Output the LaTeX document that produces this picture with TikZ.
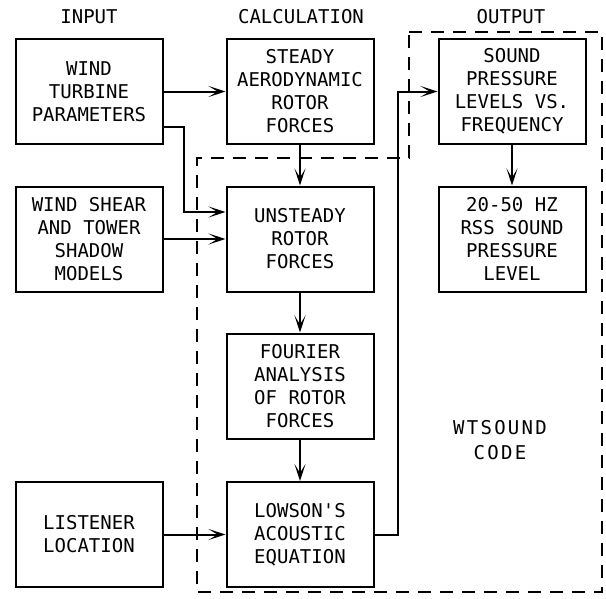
\documentclass[tikz,border=0pt]{standalone}
\usepackage{fontspec}
\newfontfamily\chartfont{DejaVu Sans Mono}
\newfontfamily\codefont[LetterSpace=12]{DejaVu Sans Mono}
\usetikzlibrary{
    arrows.meta,
    positioning,
}

\begin{document}
\begin{tikzpicture}[x=1pt, y=-1pt,
        blockbox/.style={draw, line width=2pt, minimum width=147pt, minimum height=105pt,
            inner sep=0pt, align=center, font=\chartfont\fontsize{19}{23}\selectfont},
        heading/.style={font=\chartfont\fontsize{19}{23}\selectfont},
        flow/.style={line width=2pt, -{Stealth[length=17pt, width=11pt, inset=9pt]}},
        codeline/.style={line width=2.4pt, dash pattern=on 13pt off 9pt}]
    \useasboundingbox (0,0) rectangle (606,598);
    % column headings
    \node[heading] (hin) at (89,17) {INPUT};
    \node[heading] (hcalc) at (301,17) {CALCULATION};
    \node[heading] (hout) at (511,17) {OUTPUT};
    % WTSOUND code boundary
    \draw[codeline] (409,32) -- (602,32) -- (602,592) -- (197,592)
        -- (197,158) -- (409,158) -- cycle;
    \node[font=\codefont\fontsize{19}{25}\selectfont, align=center] (code) at (500,440)
        {WTSOUND\\CODE};
    % input column
    \node[blockbox] (wtp) at (89,91.5) {WIND\\TURBINE\\PARAMETERS};
    \node[blockbox] (shear) at (89,239) {WIND SHEAR\\AND TOWER\\SHADOW\\MODELS};
    \node[blockbox] (listener) at (89,534.5) {LISTENER\\LOCATION};
    % calculation column
    \node[blockbox] (steady) at (300,91.5) {STEADY\\AERODYNAMIC\\ROTOR\\FORCES};
    \node[blockbox] (unsteady) at (300,239) {UNSTEADY\\ROTOR\\FORCES};
    \node[blockbox] (fourier) at (300,386) {FOURIER\\ANALYSIS\\OF ROTOR\\FORCES};
    \node[blockbox] (lowson) at (300,534.5) {LOWSON'S\\ACOUSTIC\\EQUATION};
    % output column
    \node[blockbox] (spl) at (512,91.5) {SOUND\\PRESSURE\\LEVELS VS.\\FREQUENCY};
    \node[blockbox] (rss) at (512,239) {20-50 HZ\\RSS SOUND\\PRESSURE\\LEVEL};
    % connectors
    \draw[flow] (wtp) -- (steady);
    \draw[flow] ([yshift=18pt]wtp.south east) -- ++(20,0) |- ([yshift=27pt]unsteady.west);
    \draw[flow] (shear) -- (unsteady);
    \draw[flow] (steady) -- (unsteady);
    \draw[flow] (unsteady) -- (fourier);
    \draw[flow] (fourier) -- (lowson);
    \draw[flow] (listener) -- (lowson);
    \draw[flow] (lowson.east) -- ++(23,0) |- (spl.west);
    \draw[flow] (spl) -- (rss);
\end{tikzpicture}
\end{document}
